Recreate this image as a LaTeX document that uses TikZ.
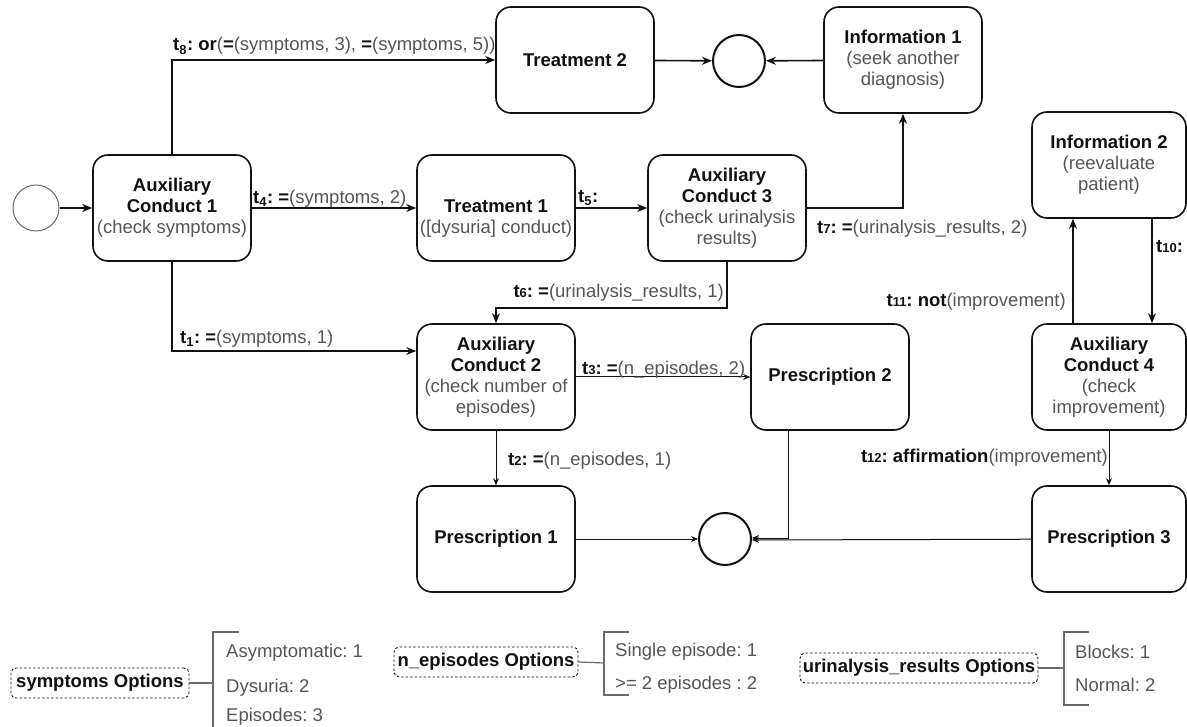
\documentclass[tikz,border=0pt]{standalone}
\usepackage{fontspec}
\setmainfont{Liberation Sans}
\usetikzlibrary{arrows.meta,calc}
\definecolor{ink}{HTML}{111111}
\definecolor{soft}{HTML}{555555}
\definecolor{rulegray}{HTML}{6A6A6A}
% transition names: subscripted and small-digit forms
\newcommand\tsub[1]{\textbf{t\textsubscript{#1}:}}
\newcommand\tsmall[1]{\textbf{t{\fontsize{13}{13}\selectfont #1}:}}
\newcommand\gry[1]{{\color{soft}#1}}
\frenchspacing
\begin{document}
\begin{tikzpicture}[x=1pt,y=-1pt,
  font=\fontsize{18.5}{21}\selectfont,
  box/.style={draw=ink, line width=1.6pt, rounded corners=15pt,
    minimum width=158pt, minimum height=106pt, inner sep=0pt,
    align=center, text=ink},
  narrowbox/.style={box, minimum width=154pt},
  endpt/.style={circle, draw=ink, line width=2pt, minimum size=52pt, inner sep=0pt},
  startpt/.style={circle, draw=rulegray, line width=1pt, minimum size=46pt, inner sep=0pt},
  flow/.style={draw=ink, line width=1.6pt, -{Stealth[length=10pt,width=8pt]}},
  thinflow/.style={draw=ink, line width=1pt, -{Stealth[length=7pt,width=6pt]}},
  lbl/.style={inner sep=0pt, text=ink},
  optbox/.style={draw=ink, line width=0.9pt, dash pattern=on 2.5pt off 2pt,
    rounded corners=5pt, minimum height=30pt, inner sep=1pt, text=ink, font=\fontsize{18.5}{21}\selectfont\bfseries},
  opt/.style={inner sep=0pt, anchor=west, text=soft},
  bracket/.style={draw=rulegray, line width=1.2pt}
]
\clip (0,0) rectangle (1187,727);

% ---------- process nodes ----------
\node[startpt] (start) at (36,208) {};
\node[box] (ac1) at (172,208)
  {\textbf{Auxiliary}\\\textbf{Conduct 1}\\\gry{(check symptoms)}};
\node[box] (tr2) at (575,60) {\textbf{Treatment 2}};
\node[endpt] (endtop) at (739,61) {};
\node[box] (inf1) at (903,60)
  {\textbf{Information 1}\\\gry{(seek another}\\\gry{diagnosis)}};
\node[box] (tr1) at (496,208) {};
\node[inner sep=0pt, align=center, text=ink] (tr1txt) at (496,218.5)
  {\textbf{Treatment 1}\\\gry{([dysuria] conduct)}};
\node[box] (ac3) at (727,208)
  {\textbf{Auxiliary}\\\textbf{Conduct 3}\\\gry{(check urinalysis}\\\gry{results)}};
\node[narrowbox] (inf2) at (1109,165)
  {\textbf{Information 2}\\\gry{(reevaluate}\\\gry{patient)}};
\node[box] (ac2) at (496,377)
  {\textbf{Auxiliary}\\\textbf{Conduct 2}\\\gry{(check number of}\\\gry{episodes)}};
\node[box] (pr2) at (830,377) {\textbf{Prescription 2}};
\node[narrowbox] (ac4) at (1109,377)
  {\textbf{Auxiliary}\\\textbf{Conduct 4}\\\gry{(check}\\\gry{improvement)}};
\node[box] (pr1) at (496,539) {\textbf{Prescription 1}};
\node[endpt] (endbot) at (725,539) {};
\node[narrowbox] (pr3) at (1109,539) {\textbf{Prescription 3}};

% ---------- connectors ----------
\draw[flow] (start) -- (ac1);
\draw[flow] (ac1.north) |- (tr2.west);
\draw[flow] (tr2) -- (endtop);
\draw[flow] (inf1) -- (endtop);
\draw[flow] (ac1) -- (tr1);
\draw[flow] (tr1) -- (ac3);
\draw[flow] (ac3.east) -| (inf1.south);
\draw[flow] (ac3.south) -- ++(0,46) -| (ac2.north);
\draw[flow] (ac1.south) |- ($(ac2.west)+(0,-26)$);
\draw[thinflow] (ac2) -- (pr2);
\draw[thinflow] (ac2) -- (pr1);
\draw[flow] ($(ac4.north)+(-36,0)$) -- ($(inf2.south)+(-36,0)$);
\draw[flow] ($(inf2.south)+(43,0)$) -- ($(ac4.north)+(43,0)$);
\draw[thinflow] (ac4) -- (pr3);
\draw[thinflow] (pr1) -- (endbot);
\draw[thinflow] ($(pr2.south west)+(38,0)$) |- ($(endbot.east)+(0,-1)$);
\draw[thinflow] (pr3) -- ($(endbot.east)+(0,1)$);

% ---------- transition labels ----------
\node[lbl, anchor=base west] (l8) at (173,51)
  {\tsub{8} \textbf{or}\gry{(}\textbf{=}\gry{(symptoms, 3), }\textbf{=}\gry{(symptoms, 5))}};
\node[lbl, anchor=base west] (l4) at (253,204) {\tsub{4} \textbf{=}\gry{(symptoms, 2)}};
\node[lbl, anchor=base west] (l5) at (578,203) {\tsub{5}};
\node[lbl, anchor=base west] (l1) at (180,344) {\tsub{1} \textbf{=}\gry{(symptoms, 1)}};
\node[lbl, anchor=base east] (l6) at (724,298) {\tsmall{6} \textbf{=}\gry{(urinalysis\_results, 1)}};
\node[lbl, anchor=base west] (l7) at (817,234) {\tsmall{7} \textbf{=}\gry{(urinalysis\_results, 2)}};
\node[lbl, anchor=base west] (l3) at (582,375) {\tsmall{3} \textbf{=}\gry{(n\_episodes, 2)}};
\node[lbl, anchor=base west] (l2) at (508,465) {\tsmall{2} \textbf{=}\gry{(n\_episodes, 1)}};
\node[lbl, anchor=base west] (l10) at (1156,253) {\tsmall{10}};
\node[lbl, anchor=base east] (l11) at (1066,307) {\tsmall{11} \textbf{not}\gry{(improvement)}};
\node[lbl, anchor=base east] (l12) at (1108,463) {\tsmall{12} \textbf{affirmation}\gry{(improvement)}};

% ---------- option legends ----------
\node[optbox, minimum width=178pt] (symopt) at (100,683) {symptoms Options};
\coordinate (symjoin) at (213,683);
\draw[bracket] (symopt.east) -- (symjoin);
\draw[bracket] (239,632) -- (213,632) -- (213,740);
\node[opt] (sym1) at (226,653) {Asymptomatic: 1};
\node[opt] (sym2) at (226,688) {Dysuria: 2};
\node[opt] (sym3) at (226,717) {Episodes: 3};

\node[optbox, minimum width=184pt] (epiopt) at (486,662) {n\_episodes Options};
\coordinate (epijoin) at (604,663);
\draw[bracket] (epiopt.east) -- (epijoin);
\draw[bracket] (629,632) -- (604,632) -- (604,695) -- (629,695);
\node[opt] (epi1) at (615,652) {Single episode: 1};
\node[opt] (epi2) at (615,685) {>= 2 episodes : 2};

\node[optbox, minimum width=238pt] (uriopt) at (919,668) {urinalysis\_results Options};
\coordinate (urijoin) at (1064,668);
\draw[bracket] (uriopt.east) -- (urijoin);
\draw[bracket] (1089,632) -- (1064,632) -- (1064,705) -- (1089,705);
\node[opt] (uri1) at (1075,652) {Blocks: 1};
\node[opt] (uri2) at (1075,685) {Normal: 2};
\end{tikzpicture}
\end{document}
